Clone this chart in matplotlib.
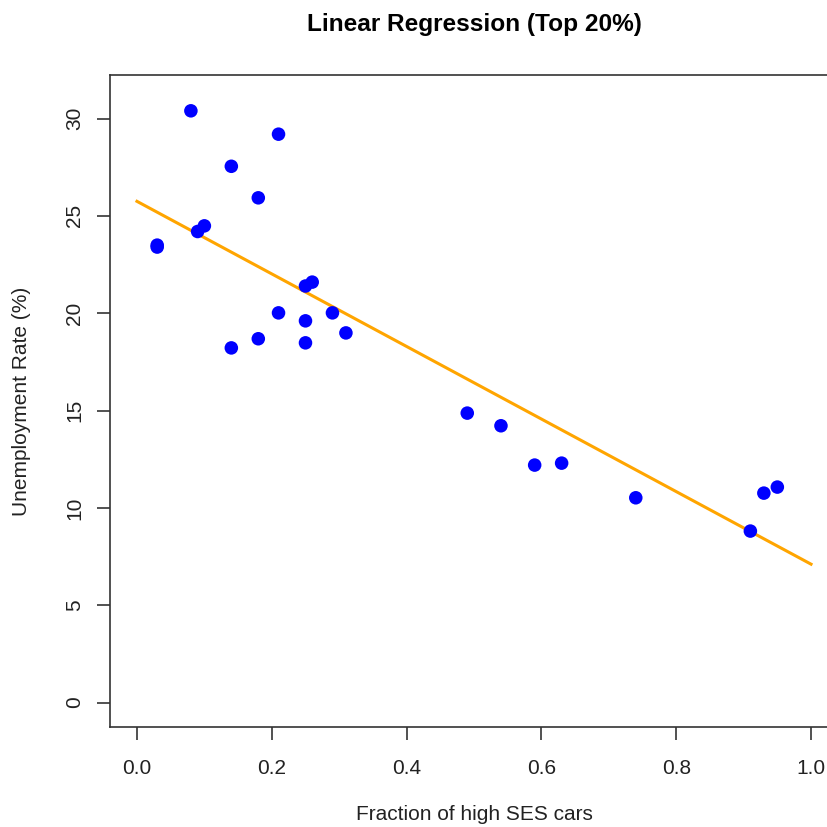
import numpy as np
import matplotlib
matplotlib.use("Agg")
import matplotlib.pyplot as plt

plt.rcParams['font.family'] = ['Liberation Sans', 'DejaVu Sans']

frac_high_ses = [0.08, 0.21, 0.14, 0.18, 0.10, 0.09, 0.03, 0.03, 0.25, 0.26,
                 0.21, 0.25, 0.29, 0.31, 0.14, 0.18, 0.25, 0.49, 0.54, 0.59,
                 0.63, 0.74, 0.93, 0.95, 0.91]
unemployment = [30.4, 29.2, 27.55, 25.93, 24.49, 24.2, 23.5, 23.4, 21.4, 21.6,
                20.02, 19.61, 20.02, 18.99, 18.22, 18.69, 18.48, 14.87, 14.22, 12.2,
                12.3, 10.52, 10.76, 11.07, 8.81]
fit_intercept = 25.75
fit_slope = -18.64
x_ticks = [0.0, 0.2, 0.4, 0.6, 0.8, 1.0]
y_ticks = [0, 5, 10, 15, 20, 25, 30]

W = H = 827
fig = plt.figure(figsize=(8.27, 8.27), dpi=100)
ax = fig.add_axes([110 / W, 1 - 726.7 / H, (838 - 110) / W, (726.7 - 75) / H])

ax.scatter(frac_high_ses, unemployment, s=95, color='#0000FF', edgecolors='none', zorder=3)
lx = np.array([0.0, 1.0])
ax.plot(lx, fit_intercept + fit_slope * lx, color='#FFA500', lw=2.2, zorder=2)

ax.set_xlim(-0.04, 1.04)
ax.set_ylim(-1.24, 32.24)
ax.set_xticks(x_ticks)
ax.set_xticklabels([f"{v:.1f}" for v in x_ticks])
ax.set_yticks(y_ticks)
ax.set_yticklabels([str(v) for v in y_ticks], rotation=90, va='center')
ax.tick_params(axis='both', direction='out', length=9.4, width=1.1, color='#222222',
               labelsize=15, labelcolor='#222222')
ax.tick_params(axis='x', pad=14)
ax.tick_params(axis='y', pad=9.3)
for sp in ax.spines.values():
    sp.set_color('#333333')
    sp.set_linewidth(1.2)

fig.text(474 / W, 1 - 25 / H, "Linear Regression (Top 20%)", ha='center', va='center',
         fontsize=17.6, fontweight='bold', color='black')
fig.text(474 / W, 1 - 815 / H, "Fraction of high SES cars", ha='center', va='center',
         fontsize=15, color='#222222')
fig.text(22 / W, 1 - 401 / H, "Unemployment Rate (%)", ha='center', va='center',
         rotation=90, fontsize=15, color='#222222')

fig.savefig("out.png", dpi=100)
